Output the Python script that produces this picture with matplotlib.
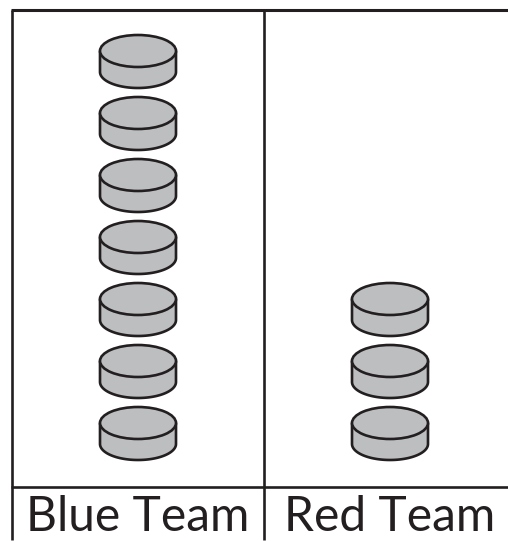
import numpy as np
import matplotlib.pyplot as plt
from matplotlib.patches import Ellipse, Polygon

teams = ['Blue Team', 'Red Team']
pucks = [7, 3]

W, H = 508, 541
cor_linha = '#231f20'
cor_disco = '#bcbec0'

# pixel layout of the reference
x_centros = (138, 390)
y_base = 423
passo_y = 62
lx = x_centros[1] - x_centros[0]
largura = 76 / lx
altura = 32 / passo_y
lado = 21 / passo_y

fig = plt.figure(figsize=(W / 100, H / 100), dpi=100)
ax = fig.add_axes([0, 0, 1, 1])
ax.set_xlim(-x_centros[0] / lx, (W - x_centros[0]) / lx)
ax.set_ylim((y_base - H) / passo_y, y_base / passo_y)
ax.axis('off')


def px(x):
    return (x - x_centros[0]) / lx


def py(y):
    return (y_base - y) / passo_y


lw_grid = 1.9
ax.plot([px(10.5), px(W)], [py(9.5), py(9.5)], color=cor_linha, lw=lw_grid + 0.3, solid_capstyle='butt')
ax.plot([px(10.5), px(W)], [py(486.5), py(486.5)], color=cor_linha, lw=lw_grid, solid_capstyle='butt')
ax.plot([px(11.5), px(11.5)], [py(9.5), py(540)], color=cor_linha, lw=lw_grid, solid_capstyle='butt')
ax.plot([px(263.5), px(263.5)], [py(9.5), py(540)], color=cor_linha, lw=lw_grid, solid_capstyle='butt')

t = np.linspace(np.pi, 2 * np.pi, 60)
for i, n in enumerate(pucks):
    for j in range(n):
        xs = i + largura / 2 * np.cos(t)
        ys = j + altura / 2 * np.sin(t) - lado
        corpo = np.column_stack([np.r_[i - largura / 2, xs, i + largura / 2], np.r_[j, ys, j]])
        ax.add_patch(Polygon(corpo, closed=True, fc=cor_disco, ec=cor_linha, lw=1.9, joinstyle='round'))
        ax.add_patch(Ellipse((i, j), largura, altura, fc=cor_disco, ec=cor_linha, lw=1.9))

for i, nome in enumerate(teams):
    ax.text(i, py(531), nome, ha='center', va='baseline', fontsize=34.5, family='Lato', color=cor_linha)

fig.savefig('out.png', dpi=100)
